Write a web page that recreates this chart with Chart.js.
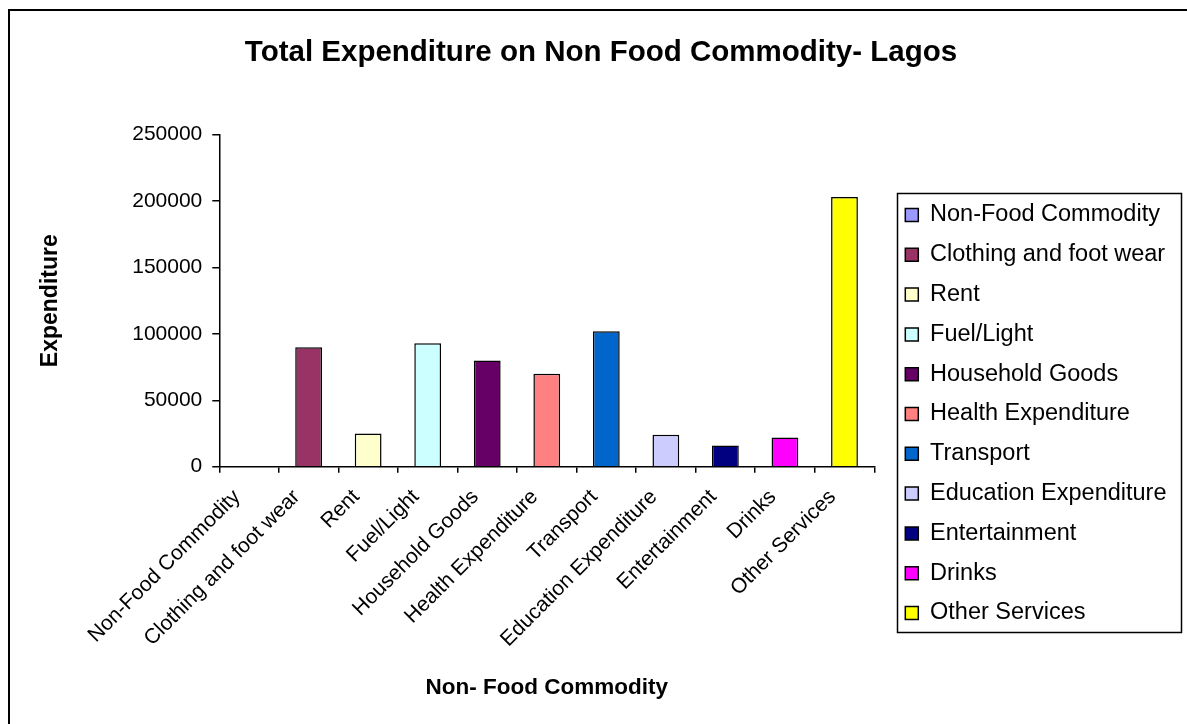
<!DOCTYPE html>
<html>
<head>
<meta charset="utf-8">
<script src="https://cdn.jsdelivr.net/npm/chart.js@4/dist/chart.umd.min.js"></script>
<style>
  html, body { margin: 0; padding: 0; background: #ffffff; }
  #wrap { width: 1187px; height: 724px; }
</style>
</head>
<body>
<div id="wrap"><canvas id="chart" width="1187" height="724"></canvas></div>
<script>
// Commodity groups and their total expenditure
const categories = [
  'Non-Food Commodity', 'Clothing and foot wear', 'Rent', 'Fuel/Light',
  'Household Goods', 'Health Expenditure', 'Transport', 'Education Expenditure',
  'Entertainment', 'Drinks', 'Other Services'
];
const expenditure = [0, 90000, 25000, 93000, 80000, 70000, 102000, 24000, 16000, 22000, 203000];
const barColors = [
  '#9999FF', '#993366', '#FFFFCC', '#CCFFFF', '#660066', '#FF8080',
  '#0066CC', '#CCCCFF', '#000080', '#FF00FF', '#FFFF00'
];
const yTicks = [0, 50000, 100000, 150000, 200000, 250000];

const FONT = "'Liberation Sans', Arial, Helvetica, sans-serif";

// One series per commodity so each gets its own legend entry
const datasets = categories.map((name, i) => ({
  label: name,
  data: categories.map((_, j) => (j === i ? expenditure[i] : null)),
  backgroundColor: barColors[i],
  borderColor: '#000000',
  borderWidth: 1.5,
  grouped: false,
  barPercentage: 0.45,
  categoryPercentage: 1.0
}));

// White page with the outer chart frame
const framePlugin = {
  id: 'frame',
  beforeDraw(chart) {
    const ctx = chart.ctx;
    ctx.save();
    ctx.fillStyle = '#ffffff';
    ctx.fillRect(0, 0, chart.width, chart.height);
    ctx.strokeStyle = '#000000';
    ctx.lineWidth = 2;
    ctx.beginPath();
    ctx.moveTo(9, chart.height + 5);
    ctx.lineTo(9, 10);
    ctx.lineTo(chart.width + 5, 10);
    ctx.stroke();
    ctx.restore();
  }
};

// Title centred on the whole frame; legend in a bordered box right of the plot
const placementPlugin = {
  id: 'placement',
  afterLayout(chart) {
    const tb = chart.titleBlock;
    tb.left = 8;
    tb.right = 1194;
    tb.width = tb.right - tb.left;

    const lg = chart.legend;
    const w = lg.width;
    lg.left = 889;
    lg.right = 889 + w;
    lg.top = 170;
    lg.bottom = 658;
    lg.height = lg.bottom - lg.top;
  },
  afterDraw(chart) {
    const ctx = chart.ctx;
    ctx.save();
    ctx.strokeStyle = '#000000';
    ctx.lineWidth = 1.5;
    ctx.strokeRect(897.5, 193.5, 284, 439);
    ctx.restore();
  }
};

new Chart(document.getElementById('chart'), {
  type: 'bar',
  data: { labels: categories, datasets },
  plugins: [framePlugin, placementPlugin],
  options: {
    responsive: false,
    animation: false,
    devicePixelRatio: 1,
    layout: { padding: { left: 23, right: 29, top: 0, bottom: 0 } },
    plugins: {
      title: {
        display: true,
        text: 'Total Expenditure on Non Food Commodity- Lagos',
        color: '#000000',
        font: { family: FONT, size: 29.5, weight: 'bold' },
        padding: { top: 35.6, bottom: 63.7 }
      },
      legend: {
        position: 'right',
        labels: {
          color: '#000000',
          font: { family: FONT, size: 23.5 },
          boxWidth: 13,
          boxHeight: 13,
          padding: 16.3
        }
      },
      tooltip: { enabled: false }
    },
    scales: {
      x: {
        offset: true,
        grid: {
          display: true,
          offset: true,
          drawOnChartArea: false,
          drawTicks: true,
          tickLength: 6,
          color: '#000000',
          lineWidth: 1.5
        },
        border: { display: true, color: '#000000', width: 1.5 },
        ticks: {
          color: '#000000',
          font: { family: FONT, size: 21 },
          minRotation: 45,
          maxRotation: 45,
          autoSkip: false,
          padding: 12,
          labelOffset: -12
        },
        title: {
          display: true,
          text: 'Non- Food Commodity',
          color: '#000000',
          font: { family: FONT, size: 22.5, weight: 'bold' },
          padding: { top: 0, bottom: 23 }
        },
        afterFit(scale) { scale.height = 257.3; }
      },
      y: {
        min: yTicks[0],
        max: yTicks[yTicks.length - 1],
        afterBuildTicks(scale) { scale.ticks = yTicks.map(v => ({ value: v })); },
        grid: {
          drawOnChartArea: false,
          drawTicks: true,
          tickLength: 7,
          color: '#000000',
          lineWidth: 1.5
        },
        border: { display: true, color: '#000000', width: 1.5 },
        ticks: {
          color: '#000000',
          font: { family: FONT, size: 21 },
          padding: 10,
          callback: v => String(v)
        },
        title: {
          display: true,
          text: 'Expenditure',
          color: '#000000',
          font: { family: FONT, size: 23, weight: 'bold' },
          padding: { top: 14.2, bottom: 0 }
        },
        afterFit(scale) { scale.width = 196.3; }
      }
    }
  }
});
</script>
</body>
</html>
